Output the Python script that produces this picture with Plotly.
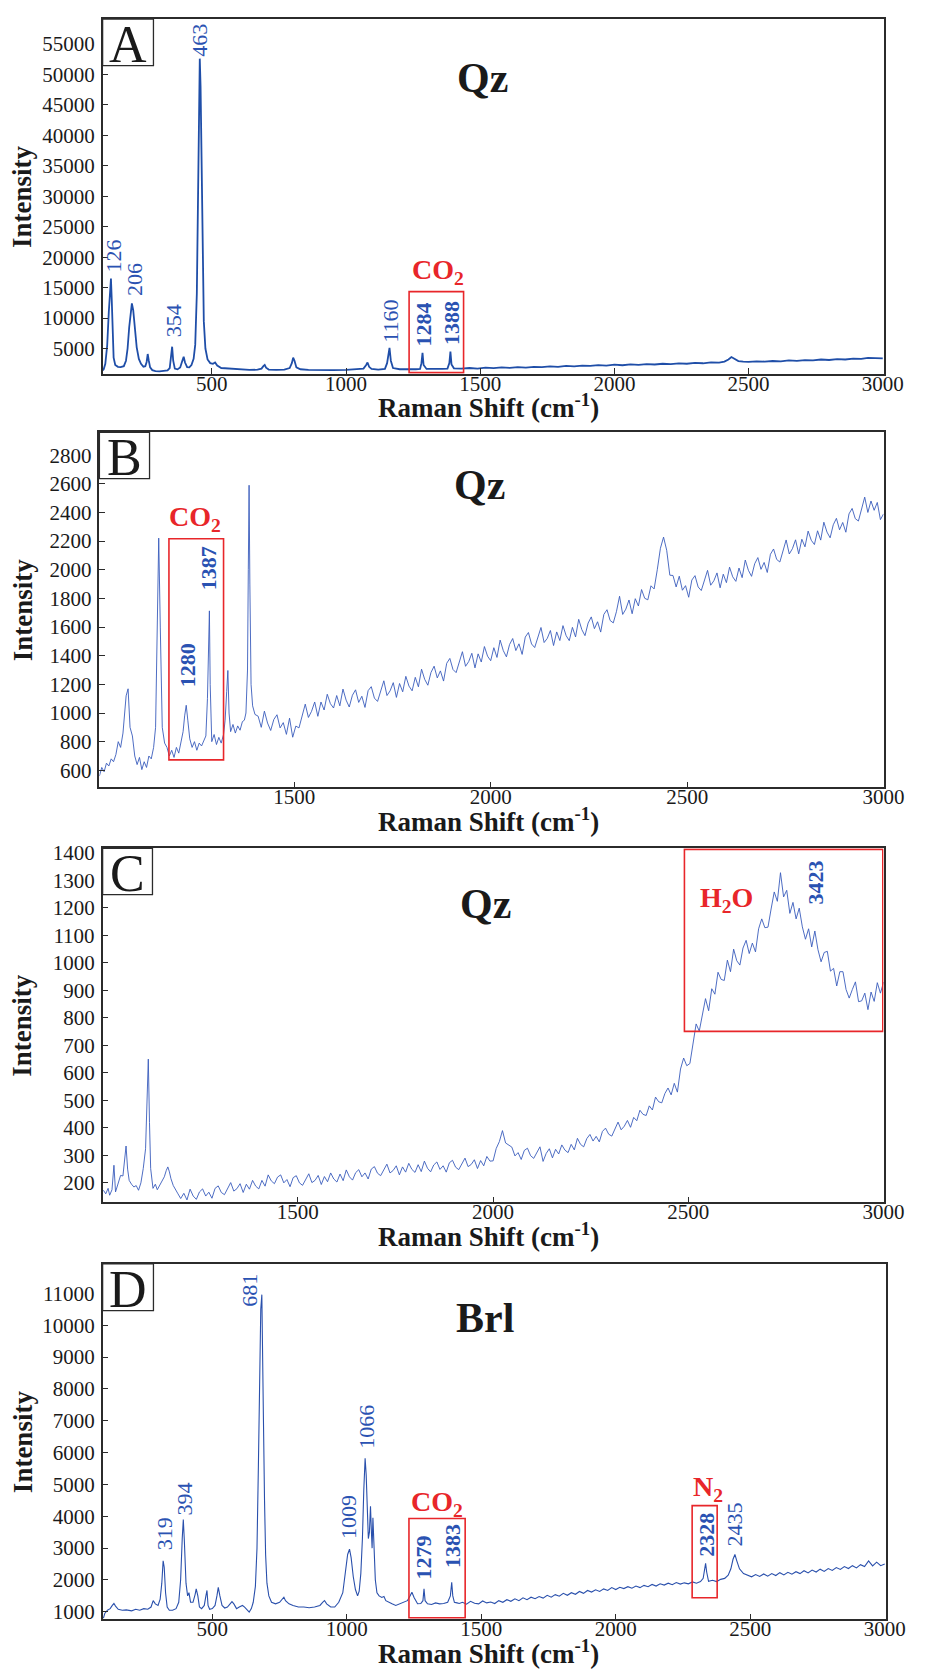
import plotly.graph_objects as go

W, H = 929, 1675

# ---------------- Panel A (Qz) ----------------
a_shift = [93, 97, 103, 110, 116, 120, 124, 127, 130, 134, 140, 150, 160, 172, 180, 186, 192, 197, 202, 207,
           213, 220, 228, 236, 245, 252, 257, 261, 265, 270, 278, 290, 305, 320, 335, 343, 348, 352, 356, 362,
           372, 382, 390, 395, 400, 408, 416, 424, 432, 438, 444, 448, 452, 455, 458, 462, 466, 470, 476, 484,
           494, 504, 512, 520, 535, 560, 600, 640, 670, 685, 692, 697, 702, 712, 740, 770, 790, 798, 803, 808,
           815, 830, 860, 900, 950, 1000, 1040, 1065, 1075, 1080, 1086, 1095, 1120, 1145, 1153, 1158, 1162, 1167,
           1175, 1200, 1230, 1260, 1276, 1281, 1285, 1289, 1300, 1330, 1360, 1378, 1385, 1389, 1393, 1402, 1430,
           1460, 1490, 1520, 1550, 1580, 1610, 1640, 1670, 1700, 1730, 1760, 1790, 1820, 1850, 1880, 1910, 1940,
           1970, 2000, 2030, 2060, 2090, 2120, 2150, 2180, 2210, 2240, 2270, 2300, 2330, 2360, 2390, 2410, 2425,
           2436, 2448, 2462, 2480, 2500, 2530, 2560, 2590, 2620, 2650, 2680, 2710, 2740, 2770, 2800, 2830, 2860,
           2890, 2920, 2945, 2970, 3000]
a_intensity = [1400, 1600, 2500, 5500, 11000, 15000, 16500, 13000, 7500, 3500, 2300, 2000, 1950, 2100, 3000, 5000,
               8500, 11200, 12400, 11300, 8200, 5200, 3300, 2500, 2000, 2100, 2800, 4100, 3000, 1900, 1450, 1300,
               1250, 1300, 1400, 1800, 3300, 5300, 3000, 1700, 1580, 1900, 3000, 3650, 2700, 1950, 1900, 2300, 3300,
               5600, 14000, 30000, 46000, 52600, 48000, 34000, 19000, 9500, 5000, 3200, 2600, 2500, 2700, 2200, 1800,
               1700, 1550, 1500, 1520, 1700, 2100, 2300, 1850, 1550, 1500, 1550, 1800, 2600, 3500, 3000, 1900, 1600,
               1500, 1450, 1450, 1500, 1550, 1700, 2300, 2700, 2000, 1650, 1550, 1650, 2600, 4400, 5100, 3000, 1800,
               1600, 1550, 1600, 1650, 2600, 4300, 2300, 1650, 1600, 1650, 1700, 2600, 4500, 2400, 1750, 1700, 1800,
               1700, 1850, 1780, 1900, 1820, 1950, 1880, 2000, 1950, 2080, 2000, 2150, 2080, 2200, 2150, 2280, 2200,
               2350, 2260, 2400, 2320, 2450, 2380, 2500, 2430, 2560, 2500, 2650, 2580, 2720, 2700, 2850, 3200, 3600,
               3250, 2950, 2850, 2800, 2900, 2850, 2950, 2900, 3050, 2980, 3100, 3050, 3200, 3120, 3250, 3200, 3350,
               3300, 3480, 3380, 3380]

# ---------------- Panel B (Qz) ----------------
b_shift = [1004, 1010, 1016, 1022, 1028, 1034, 1040, 1046, 1052, 1058, 1064, 1068, 1072, 1077, 1082, 1088, 1094,
           1100, 1106, 1112, 1118, 1124, 1130, 1136, 1142, 1147, 1151, 1155, 1159, 1164, 1170, 1176, 1182, 1188,
           1194, 1200, 1206, 1212, 1217, 1221, 1225, 1229, 1234, 1240, 1246, 1252, 1258, 1264, 1270, 1275, 1279,
           1282, 1284, 1286, 1290, 1296, 1302, 1308, 1314, 1320, 1324, 1328, 1331, 1334, 1338, 1344, 1350, 1356,
           1362, 1368, 1373, 1377, 1381, 1383, 1385, 1387, 1390, 1394, 1400,
           1408, 1416, 1424, 1432, 1440, 1448, 1456, 1464, 1472, 1480, 1488, 1496, 1504, 1512, 1520, 1528, 1536,
           1544, 1552, 1560, 1568, 1576, 1584, 1592, 1600, 1608, 1616, 1624, 1632, 1640, 1648, 1656, 1664, 1672,
           1680, 1688, 1696, 1704, 1712, 1720, 1728, 1736, 1744, 1752, 1760, 1768, 1776, 1784, 1792, 1800, 1808,
           1816, 1824, 1832, 1840, 1848, 1856, 1864, 1872, 1880, 1888, 1896, 1904, 1912, 1920, 1928, 1936, 1944,
           1952, 1960, 1968, 1976, 1984, 1992, 2000, 2008, 2016, 2024, 2032, 2040, 2048, 2056, 2064, 2072, 2080,
           2088, 2096, 2104, 2112, 2120, 2128, 2136, 2144, 2152, 2160, 2168, 2176, 2184, 2192, 2200, 2208, 2216,
           2224, 2232, 2240, 2248, 2256, 2264, 2272, 2280, 2288, 2296, 2304, 2312, 2320, 2328, 2336, 2344, 2352,
           2360, 2368, 2376, 2384, 2392, 2400, 2408, 2416, 2424, 2432, 2440, 2448, 2456, 2464, 2472, 2480, 2488,
           2496, 2504, 2512, 2520, 2528, 2536, 2544, 2552, 2560, 2568, 2576, 2584, 2592, 2600, 2608, 2616, 2624,
           2632, 2640, 2648, 2656, 2664, 2672, 2680, 2688, 2696, 2704, 2712, 2720, 2728, 2736, 2744, 2752, 2760,
           2768, 2776, 2784, 2792, 2800, 2808, 2816, 2824, 2832, 2840, 2848, 2856, 2864, 2872, 2880, 2888, 2896,
           2904, 2912, 2920, 2928, 2936, 2944, 2952, 2960, 2968, 2976, 2984, 2992, 3000]
b_intensity = [560, 620, 590, 650, 630, 680, 660, 710, 800, 760, 860, 980, 1120, 1169, 900, 840, 700, 640, 690,
               605, 660, 620, 700, 680, 760, 900, 1500, 2221, 1600, 900, 790, 760, 700, 740, 690, 760, 720, 800,
               870, 980, 1054, 950, 820, 760, 800, 740, 790, 770, 810, 840, 1100, 1600, 1713, 1200, 800, 850, 780,
               830, 790, 850, 950, 1150, 1297, 1000, 870, 920, 860, 910, 880, 940, 950, 1000, 1300, 2000, 2590,
               1900, 1200, 1050, 990,
               978, 900, 1013, 930, 878, 955, 988, 896, 933, 851, 964, 831, 909, 896, 979, 1062, 969,
               1012, 1077, 977, 1077, 1021, 1131, 1065, 1035, 1122, 1050, 1167, 1090, 1042, 1124, 1162, 1074, 1117,
               1039, 1156, 1184, 1104, 1081, 1153, 1225, 1122, 1155, 1212, 1109, 1206, 1148, 1256, 1188, 1155, 1249,
               1183, 1306, 1235, 1194, 1283, 1327, 1245, 1294, 1223, 1347, 1381, 1304, 1282, 1355, 1428, 1326, 1359,
               1417, 1315, 1413, 1356, 1464, 1397, 1365, 1456, 1388, 1509, 1436, 1392, 1478, 1520, 1436, 1483, 1409,
               1530, 1562, 1482, 1457, 1527, 1597, 1492, 1521, 1576, 1471, 1566, 1506, 1610, 1540, 1505, 1598, 1531,
               1654, 1582, 1540, 1628, 1671, 1589, 1637, 1565, 1688, 1721, 1646, 1629, 1707, 1815, 1688, 1725, 1789,
               1693, 1798, 1747, 1862, 1801, 1790, 1888, 1866, 2000, 2150, 2228, 2136, 1962, 1960, 1880, 1955, 1857,
               1889, 1808, 1928, 1959, 1880, 1855, 1926, 1996, 1892, 1923, 1978, 1874, 1969, 1910, 2018, 1951, 1919,
               2012, 1945, 2068, 1996, 1954, 2042, 2085, 2003, 2051, 1981, 2108, 2145, 2072, 2054, 2131, 2208, 2110,
               2147, 2209, 2111, 2213, 2160, 2270, 2206, 2176, 2272, 2207, 2332, 2263, 2223, 2314, 2359, 2279, 2330,
               2262, 2390, 2428, 2357, 2340, 2418, 2507, 2400, 2480, 2415, 2470, 2350, 2390]

# ---------------- Panel C (Qz) ----------------
c_shift = [1002, 1008, 1014, 1018, 1024, 1029, 1033, 1040, 1046, 1052, 1056, 1060, 1064, 1068, 1074, 1080, 1086,
           1092, 1098, 1104, 1110, 1114, 1117, 1120, 1123, 1129, 1135, 1140, 1146, 1152, 1158, 1163, 1167, 1171,
           1175, 1181, 1187, 1193, 1200,
           1208, 1216, 1224, 1232, 1240, 1248, 1256, 1264, 1272, 1280, 1288, 1296, 1304, 1312, 1320, 1328, 1336,
           1344, 1352, 1360, 1368, 1376, 1384, 1392, 1400, 1408, 1416, 1424, 1432, 1440, 1448, 1456, 1464, 1472,
           1480, 1488, 1496, 1504, 1512, 1520, 1528, 1536, 1544, 1552, 1560, 1568, 1576, 1584, 1592, 1600, 1608,
           1616, 1624, 1632, 1640, 1648, 1656, 1664, 1672, 1680, 1688, 1696, 1704, 1712, 1720, 1728, 1736, 1744,
           1752, 1760, 1768, 1776, 1784, 1792, 1800, 1808, 1816, 1824, 1832, 1840, 1848, 1856, 1864, 1872, 1880,
           1888, 1896, 1904, 1912, 1920, 1928, 1936, 1944, 1952, 1960, 1968, 1976, 1984, 1992, 2000, 2008, 2016,
           2024, 2032, 2040, 2048, 2056, 2064, 2072, 2080, 2088, 2096, 2104, 2112, 2120, 2128, 2136, 2144, 2152,
           2160, 2168, 2176, 2184, 2192, 2200, 2208, 2216, 2224, 2232, 2240, 2248, 2256, 2264, 2272, 2280, 2288,
           2296, 2304, 2312, 2320, 2328, 2336, 2344, 2352, 2360, 2368, 2376, 2384, 2392, 2400, 2408, 2416, 2424,
           2432, 2440, 2448, 2456, 2464, 2472, 2480, 2488, 2496, 2504, 2512, 2520, 2528, 2536, 2544, 2552, 2560,
           2568, 2576, 2584, 2592, 2600, 2608, 2616, 2624, 2632, 2640, 2648, 2656, 2664, 2672, 2680, 2688, 2696,
           2704, 2712, 2720, 2728, 2736, 2744, 2752, 2760, 2768, 2776, 2784, 2792, 2800, 2808, 2816, 2824, 2832,
           2840, 2848, 2856, 2864, 2872, 2880, 2888, 2896, 2904, 2912, 2920, 2928, 2936, 2944, 2952, 2960, 2968,
           2976, 2984, 2992, 3000]
c_intensity = [173, 160, 180, 155, 175, 264, 167, 200, 227, 225, 270, 334, 250, 209, 195, 185, 190, 173, 200, 252,
               324, 520, 650, 420, 252, 180, 195, 175, 191, 205, 222, 245, 258, 240, 215, 190, 173, 160, 143,
               162, 138, 177, 152, 140, 167, 178, 152, 166, 144, 180, 189, 165, 157, 180, 201, 170,
               179, 197, 165, 195, 177, 209, 188, 178, 209, 188, 229, 207, 197, 221, 229, 200, 212,
               186, 219, 226, 200, 191, 213, 233, 201, 209, 227, 194, 223, 204, 236, 214, 203, 232,
               208, 247, 222, 210, 237, 248, 222, 236, 214, 250, 259, 235, 226, 248, 268, 236, 245,
               262, 229, 258, 239, 271, 249, 238, 266, 241, 279, 253, 240, 265, 276, 249, 262, 239,
               273, 282, 257, 248, 270, 290, 259, 267, 284, 252, 281, 262, 296, 279, 280, 325, 350,
               390, 345, 336, 330, 298, 310, 285, 318, 326, 299, 289, 311, 331, 278, 307, 324, 291,
               322, 305, 338, 319, 310, 340, 320, 362, 340, 331, 361, 376, 352, 369, 349, 387, 399,
               377, 370, 396, 421, 393, 406, 427, 402, 438, 426, 464, 449, 445, 480, 465, 512, 495,
               491, 525, 545, 520, 562, 530, 614, 654, 626, 634, 708, 778, 752, 806, 870, 826, 906,
               886, 966, 940, 936, 1010, 968, 1050, 1008, 992, 1054, 1082, 1034, 1072, 1040, 1124, 1160, 1128,
               1130, 1196, 1258, 1224, 1328, 1240, 1264, 1180, 1220, 1160, 1199, 1131, 1086, 1124, 1058, 1116, 1048,
               1004, 1038, 1042, 970, 980, 916, 968, 968, 903, 872, 903, 931, 859, 862, 890, 830, 894,
               860, 928, 890, 930]

# ---------------- Panel D (Brl) ----------------
d_shift = [95, 100, 110, 120, 128, 134, 140, 150, 165, 180, 200, 215, 230, 245, 260, 272, 280, 288, 298, 306, 312,
           317, 321, 326, 332, 340, 352, 365, 375, 382, 388, 392, 396, 402, 408, 413, 419, 428, 436, 440, 446, 452,
           460, 470, 476, 480, 484, 490, 500, 510, 517, 522, 528, 536, 546, 556, 566, 573, 580, 590, 600, 612, 620,
           630, 637, 645, 652, 660, 666, 671, 676, 680, 684, 687, 690, 694, 698, 703, 710, 720, 735, 750, 760, 766,
           772, 785, 800, 820, 840, 860, 880, 900, 910, 917, 925, 940, 955, 970, 985, 995, 1003, 1010, 1016, 1024,
           1032, 1040, 1046, 1052, 1058, 1063, 1068, 1072, 1076, 1080, 1084, 1088, 1091, 1094, 1097, 1101, 1106,
           1112, 1120, 1130, 1138, 1145, 1155, 1168, 1182, 1195, 1210, 1225, 1235, 1242, 1250, 1263, 1275, 1283,
           1287, 1291, 1300, 1315, 1330, 1345, 1360, 1375, 1385, 1390, 1394, 1400, 1410, 1418,
           1430, 1445, 1460, 1475, 1490, 1505, 1520, 1535, 1550, 1565, 1580, 1595, 1610, 1625, 1640, 1655, 1670,
           1685, 1700, 1715, 1730, 1745, 1760, 1775, 1790, 1805, 1820, 1835, 1850, 1865, 1880, 1895, 1910, 1925,
           1940, 1955, 1970, 1985, 2000, 2015, 2030, 2045, 2060, 2075, 2090, 2105, 2120, 2135, 2150, 2165, 2180,
           2195, 2210, 2225, 2240, 2255, 2270, 2285, 2300, 2315, 2325, 2330, 2334, 2338, 2345, 2360, 2375, 2390,
           2405, 2418, 2428, 2436, 2443, 2450, 2460, 2475, 2490, 2505, 2520, 2535, 2550, 2565, 2580, 2595, 2610,
           2625, 2640, 2655, 2670, 2685, 2700, 2715, 2730, 2745, 2760, 2775, 2790, 2805, 2820, 2835, 2850, 2865,
           2880, 2895, 2910, 2925, 2940, 2955, 2970, 2985, 3000]
d_intensity = [800, 950, 1050, 1100, 1200, 1260, 1180, 1080, 1050, 1060, 1030, 1080, 1050, 1100, 1080, 1150, 1350,
               1250, 1200, 1400, 1900, 2600, 2400, 1600, 1150, 1050, 1050, 1100, 1300, 2000, 3300, 3900, 3200, 1900,
               1500, 1600, 1300, 1300, 1550, 1720, 1500, 1150, 1100, 1200, 1500, 1670, 1200, 1080, 1100, 1200, 1500,
               1770, 1500, 1200, 1120, 1150, 1250, 1320, 1250, 1100, 1150, 1200, 1150, 1050, 990, 1100, 1300, 1800,
               3000, 5500, 8500, 10500, 10960, 9500, 7000, 4500, 2800, 1900, 1500, 1300, 1250, 1300, 1400, 1460,
               1350, 1250, 1200, 1150, 1150, 1130, 1150, 1200, 1300, 1355, 1250, 1150, 1150, 1300, 1600, 2200, 2800,
               2966, 2700, 2100, 1700, 1500, 1650, 2200, 3300, 4800, 5820, 5300, 4200, 3300, 3500, 4315, 3600, 3000,
               3950, 3000, 2000, 1600, 1500, 1450, 1480, 1350, 1300, 1250, 1200, 1250, 1300, 1350, 1500, 1615, 1450,
               1252, 1260, 1350, 1720, 1350, 1250, 1230, 1280, 1250, 1260, 1300, 1500, 1925, 1500, 1300, 1280, 1260,
               1300, 1240, 1330, 1270, 1250, 1340, 1280, 1310, 1260, 1350, 1300, 1380, 1330, 1410, 1350, 1440, 1380,
               1460, 1410, 1480, 1430, 1520, 1460, 1540, 1490, 1580, 1520, 1600, 1550, 1640, 1580, 1670, 1620, 1690,
               1640, 1720, 1670, 1760, 1700, 1770, 1730, 1790, 1740, 1810, 1760, 1830, 1790, 1860, 1810, 1880, 1840,
               1900, 1850, 1920, 1870, 1910, 1880, 1940, 1900, 1950, 2050, 2300, 2520, 2250, 1960, 1990, 1950, 2020,
               2050, 2150, 2350, 2650, 2800, 2600, 2350, 2200, 2150, 2100, 2170, 2110, 2190, 2120, 2200, 2140, 2230,
               2160, 2240, 2180, 2260, 2200, 2290, 2220, 2310, 2250, 2340, 2270, 2360, 2300, 2390, 2330, 2420, 2360,
               2450, 2380, 2480, 2420, 2600, 2440, 2560, 2450, 2500]

# ---------------- Tick values ----------------
a_yticks = [5000, 10000, 15000, 20000, 25000, 30000, 35000, 40000, 45000, 50000, 55000]
b_yticks = [600, 800, 1000, 1200, 1400, 1600, 1800, 2000, 2200, 2400, 2600, 2800]
c_yticks = [200, 300, 400, 500, 600, 700, 800, 900, 1000, 1100, 1200, 1300, 1400]
d_yticks = [1000, 2000, 3000, 4000, 5000, 6000, 7000, 8000, 9000, 10000, 11000, 12000]
wide_xticks = [500, 1000, 1500, 2000, 2500, 3000]
narrow_xticks = [1500, 2000, 2500, 3000]

# peak labels: (text, shift, intensity, bold)
a_labels = [("126", 130, 20190, False), ("206", 210, 16250, False), ("354", 355, 9650, False),
            ("463", 454, 55620, False), ("1160", 1163, 9515, False), ("1284", 1287, 8960, True),
            ("1388", 1391, 9190, True)]
b_labels = [("1280", 1228, 1337, True), ("1387", 1284, 2013, True)]
c_labels = [("3423", 2827, 1292, True)]
d_labels = [("319", 323, 3458, False), ("394", 397, 4548, False), ("681", 637, 11090, False),
            ("1009", 1004, 3972, False), ("1066", 1074, 6807, False), ("1279", 1284, 2716, True),
            ("1383", 1393, 3053, True), ("2328", 2334, 3411, True), ("2435", 2440, 3745, False)]

# gas boxes: (x0, x1, y0, y1) and gas names: (text, shift, intensity)
a_boxes = [(1235, 1438, 1040, 14340)]
b_boxes = [(1181, 1320, 673, 2216)]
c_boxes = [(2490, 2998, 751, 1413)]
d_boxes = [(1231, 1440, 816, 3931), (2284, 2377, 1440, 4336)]
a_gas = [("CO<sub>2</sub>", 1341, 17600)]
b_gas = [("CO<sub>2</sub>", 1247, 2359)]
c_gas = [("H<sub>2</sub>O", 2597, 1232)]
d_gas = [("CO<sub>2</sub>", 1337, 4417), ("N<sub>2</sub>", 2343, 4885)]

SERIF = "Liberation Serif, Times New Roman, serif"


def pxx(x):
    return x / W


def pxy(y):
    return 1 - y / H


panels = [
    dict(letter="A", mineral="Qz", x=a_shift, y=a_intensity, xdom=(105, 904), ydom=(12.3, 369.3),
         xr=[93, 3003], yr=[875, 59075], yt=a_yticks, xt=wide_xticks, color="#1f4ea8", lw=1.8,
         labels=a_labels, boxes=a_boxes, gas=a_gas, minpos=(494, 72), boxpx=(105, 157, 12.3, 59)),
    dict(letter="B", mineral="Qz", x=b_shift, y=b_intensity, xdom=(101.7, 904), ydom=(428.3, 786),
         xr=[1004, 3000], yr=[481, 2960], yt=b_yticks, xt=narrow_xticks, color="#3a5cbc", lw=0.9,
         labels=b_labels, boxes=b_boxes, gas=b_gas, minpos=(491, 481), boxpx=(101.7, 153, 428.3, 475)),
    dict(letter="C", mineral="Qz", x=c_shift, y=c_intensity, xdom=(105, 904), ydom=(847.3, 1204),
         xr=[1000, 3000], yr=[129, 1417], yt=c_yticks, xt=narrow_xticks, color="#3a5cbc", lw=0.9,
         labels=c_labels, boxes=c_boxes, gas=c_gas, minpos=(497, 903), boxpx=(105, 156, 847.3, 894)),
    dict(letter="D", mineral="Brl", x=d_shift, y=d_intensity, xdom=(105, 906), ydom=(1266, 1624),
         xr=[92, 3003], yr=[763, 11925], yt=d_yticks, xt=wide_xticks, color="#2a50ac", lw=1.1,
         labels=d_labels, boxes=d_boxes, gas=d_gas, minpos=(496, 1320), boxpx=(105, 157, 1266, 1313)),
]

fig = go.Figure()
annotations = []
shapes = []
layout = {}

for i, p in enumerate(panels, start=1):
    sfx = "" if i == 1 else str(i)
    xref, yref = "x" + sfx, "y" + sfx
    fig.add_trace(go.Scatter(x=p["x"], y=p["y"], mode="lines", xaxis=xref, yaxis=yref,
                             line=dict(color=p["color"], width=p["lw"]), showlegend=False,
                             hoverinfo="skip"))
    common = dict(showline=True, linecolor="#2b2b2b", linewidth=1.6, mirror=True, ticks="inside",
                  ticklen=6, tickwidth=1.3, tickcolor="#2b2b2b", showgrid=False, zeroline=False,
                  tickformat="d", tickfont=dict(family=SERIF, size=21, color="#1a1a1a"))
    layout["xaxis" + sfx] = dict(common, domain=[pxx(p["xdom"][0]), pxx(p["xdom"][1])],
                                 range=p["xr"], tickvals=p["xt"], anchor=yref,
                                 ticklabelstandoff=-10)
    layout["yaxis" + sfx] = dict(common, domain=[pxy(p["ydom"][1]), pxy(p["ydom"][0])],
                                 range=p["yr"], tickvals=p["yt"], anchor=xref,
                                 ticklabelstandoff=2)

    # panel letter box
    bx0, bx1, by0, by1 = p["boxpx"]
    shapes.append(dict(type="rect", xref="paper", yref="paper", x0=pxx(bx0), x1=pxx(bx1),
                       y0=pxy(by1), y1=pxy(by0), line=dict(color="#2b2b2b", width=1.3),
                       fillcolor="white", layer="above"))
    annotations.append(dict(text=p["letter"], xref="paper", yref="paper", x=pxx((bx0 + bx1) / 2),
                            y=pxy((by0 + by1) / 2 + 2), showarrow=False, xanchor="center",
                            yanchor="middle", font=dict(family=SERIF, size=52, color="#1a1a1a")))
    # mineral name
    annotations.append(dict(text="<b>%s</b>" % p["mineral"], xref="paper", yref="paper",
                            x=pxx(p["minpos"][0]), y=pxy(p["minpos"][1]), showarrow=False,
                            xanchor="center", yanchor="middle",
                            font=dict(family=SERIF, size=42, color="#1a1a1a")))
    # axis titles
    annotations.append(dict(text="<b>Intensity</b>", xref="paper", yref="paper", x=pxx(23),
                            y=pxy((p["ydom"][0] + p["ydom"][1]) / 2), showarrow=False, textangle=-90,
                            xanchor="center", yanchor="middle",
                            font=dict(family=SERIF, size=27, color="#1a1a1a")))
    annotations.append(dict(text="<b>Raman Shift (cm<sup>-1</sup>)</b>", xref="paper", yref="paper",
                            x=pxx(500), y=pxy(p["ydom"][1] + 33), showarrow=False,
                            xanchor="center", yanchor="middle",
                            font=dict(family=SERIF, size=27, color="#1a1a1a")))
    # peak labels
    for txt, xv, yv, bold in p["labels"]:
        annotations.append(dict(text=("<b>%s</b>" % txt) if bold else txt, xref=xref, yref=yref,
                                x=xv, y=yv, showarrow=False, textangle=-90, xanchor="center",
                                yanchor="middle",
                                font=dict(family=SERIF, size=22, color="#2a52b2")))
    # gas boxes & names
    for x0, x1, y0, y1 in p["boxes"]:
        shapes.append(dict(type="rect", xref=xref, yref=yref, x0=x0, x1=x1, y0=y0, y1=y1,
                           line=dict(color="#e8262a", width=1.6), layer="above"))
    for txt, xv, yv in p["gas"]:
        annotations.append(dict(text="<b>%s</b>" % txt, xref=xref, yref=yref, x=xv, y=yv,
                                showarrow=False, xanchor="center", yanchor="middle",
                                font=dict(family=SERIF, size=28, color="#e8262a")))

fig.update_layout(width=W, height=H, margin=dict(l=0, r=0, t=0, b=0), paper_bgcolor="white",
                  plot_bgcolor="white", annotations=annotations, shapes=shapes, **layout)

fig.write_html("out.html")
